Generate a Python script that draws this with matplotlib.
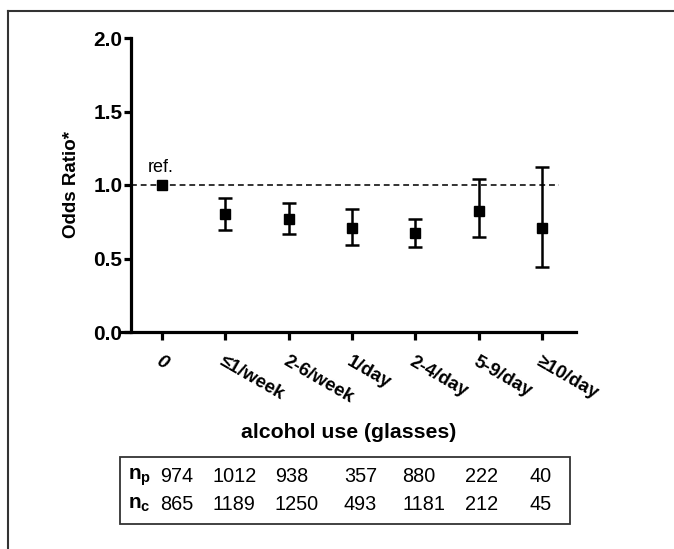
import matplotlib.pyplot as plt
from matplotlib.lines import Line2D
from matplotlib.patches import Rectangle

plt.rcParams['font.family'] = ['Liberation Sans', 'DejaVu Sans']
plt.rcParams['mathtext.fontset'] = 'custom'
plt.rcParams['mathtext.bf'] = 'Liberation Sans:bold'

# Daten
categories = ['0', '≤1/week', '2-6/week', '1/day', '2-4/day', '5-9/day', '≥10/day']
odds = [1.00, 0.80, 0.77, 0.71, 0.675, 0.82, 0.71]
ci_low = [1.00, 0.695, 0.67, 0.595, 0.575, 0.645, 0.44]
ci_high = [1.00, 0.91, 0.88, 0.84, 0.77, 1.04, 1.125]
n_p = [974, 1012, 938, 357, 880, 222, 40]
n_c = [865, 1189, 1250, 493, 1181, 212, 45]

fig = plt.figure(figsize=(6.74, 5.49), dpi=100)
W, H = 674, 549

# aeusserer Rahmen (nur links und oben sichtbar)
fig.add_artist(Line2D([8 / W, 8 / W], [0, 1 - 11 / H], transform=fig.transFigure, color='#333333', lw=1.5))
fig.add_artist(Line2D([8 / W, 1], [1 - 11 / H, 1 - 11 / H], transform=fig.transFigure, color='#333333', lw=1.5))

ax = fig.add_axes([120 / W, 1 - 332 / H, 456 / W, 294 / H])
x = list(range(len(categories)))

ax.set_xlim(-0.663, 6.537)
ax.set_ylim(0, 2.0)
spine_x = -0.49

ax.hlines(1.0, spine_x, 6.27, colors='#333333', linestyles=(0, (3, 2)), lw=1.4, zorder=1)

# Referenzpunkt ohne Fehlerbalken
ax.plot(x[0], odds[0], 's', color='black', ms=7.5, zorder=3)
yerr = [[o - l for o, l in zip(odds[1:], ci_low[1:])], [h - o for o, h in zip(odds[1:], ci_high[1:])]]
ax.errorbar(x[1:], odds[1:], yerr=yerr, fmt='s', color='black', ms=7.5,
            elinewidth=1.8, capsize=5, capthick=1.8, zorder=3)
ax.text(x[0] - 0.02, 1.06, 'ref.', fontsize=13, ha='center', va='bottom')

for s in ['top', 'right']:
    ax.spines[s].set_visible(False)
ax.spines['left'].set_position(('data', spine_x))
ax.spines['left'].set_linewidth(2.3)
ax.spines['bottom'].set_linewidth(2.3)

ax.set_yticks([0, 0.5, 1.0, 1.5, 2.0])
ax.set_yticklabels(['0.0', '0.5', '1.0', '1.5', '2.0'], fontsize=15, fontweight='bold')
ax.tick_params(axis='y', length=5, width=2.3, pad=1)
ax.set_xticks(x)
ax.set_xticklabels(categories, fontsize=13.5, fontweight='bold', rotation=-30,
                   ha='left', va='top', rotation_mode='anchor')
ax.tick_params(axis='x', length=6, width=2.3, pad=9)
ax.get_xticklabels()[0].set_style('italic')

ax.set_ylabel('Odds Ratio*', fontsize=13.5, fontweight='bold', labelpad=10)
fig.text(349 / W, 1 - 432 / H, 'alcohol use (glasses)', fontsize=15.3, fontweight='bold',
         ha='center', va='center')

# Tabelle mit Fallzahlen
fig.add_artist(Rectangle((120 / W, 1 - 524 / H), 450 / W, 67 / H, transform=fig.transFigure,
                         fill=False, edgecolor='#333333', lw=1.3))
col_x = [160, 213, 275, 344, 402, 465, 529]
for row_y, lab, vals in [(477, 'p', n_p), (504, 'c', n_c)]:
    fig.text(128 / W, 1 - row_y / H, r'$\mathbf{n_{' + lab + r'}}$', fontsize=15, ha='left', va='center')
    for cx, v in zip(col_x, vals):
        fig.text(cx / W, 1 - row_y / H, str(v), fontsize=14.3, ha='left', va='center')

fig.savefig('out.png', dpi=100)
